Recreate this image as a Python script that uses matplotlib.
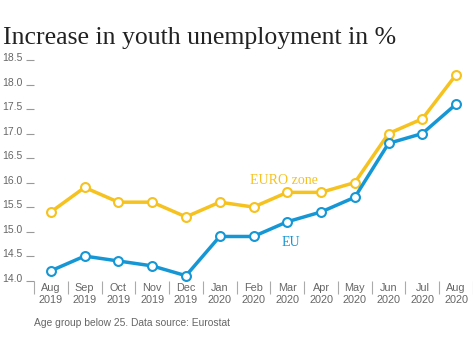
import numpy as np
import matplotlib
matplotlib.use("Agg")
import matplotlib.pyplot as plt
import matplotlib.transforms as mtransforms

# data
months = ["Aug\n2019", "Sep\n2019", "Oct\n2019", "Nov\n2019", "Dec\n2019",
          "Jan\n2020", "Feb\n2020", "Mar\n2020", "Apr\n2020", "May\n2020",
          "Jun\n2020", "Jul\n2020", "Aug\n2020"]
euro_zone = [15.4, 15.9, 15.6, 15.6, 15.3, 15.6, 15.5, 15.8, 15.8, 16.0, 17.0, 17.3, 18.2]
eu = [14.2, 14.5, 14.4, 14.3, 14.1, 14.9, 14.9, 15.2, 15.4, 15.7, 16.8, 17.0, 17.6]
yticks = [14.0, 14.5, 15.0, 15.5, 16.0, 16.5, 17.0, 17.5, 18.0, 18.5]

yellow = "#F6C21F"
blue = "#1697D5"
grey = "#666666"

fig = plt.figure(figsize=(4.73, 3.41), dpi=100)
ax = fig.add_axes([34/473, 1 - 280.6/341, 1 - 34/473, (280.6 - 60)/341])

x = np.arange(len(months))
for vals, col in [(euro_zone, yellow), (eu, blue)]:
    ax.plot(x, vals, color=col, lw=2.5, marker="o", ms=6.4,
            mfc="white", mec=col, mew=1.5, clip_on=False, zorder=3)

ax.text(6.9, 16.05, "EURO zone", color=yellow, fontsize=10,
        family="Liberation Serif", ha="center", va="center")
ax.text(7.1, 14.78, "EU", color=blue, fontsize=10,
        family="Liberation Serif", ha="center", va="center")

ax.set_xlim(-0.5, 12.5)
ax.set_ylim(14.0, 18.5)
for s in ax.spines.values():
    s.set_visible(False)

ax.set_yticks(yticks)
ax.set_yticklabels([f"{v:.1f}" for v in yticks])
ax.tick_params(axis="y", direction="out", length=6, width=0.8, color="#999999",
               labelsize=7.5, labelcolor=grey, pad=2)
shift = mtransforms.ScaledTranslation(0, 3/100, fig.dpi_scale_trans)
for lab in ax.get_yticklabels():
    lab.set_transform(lab.get_transform() + shift)
    lab.set_family("Liberation Sans")

ax.set_xticks(x)
ax.set_xticklabels(months, family="Liberation Sans")
ax.set_xticks(np.arange(-0.5, 13, 1), minor=True)
ax.tick_params(axis="x", which="major", length=0, labelsize=7.8,
               labelcolor=grey, pad=2)
ax.tick_params(axis="x", which="minor", direction="out", length=9,
               width=0.8, color="#aaaaaa")
for lab in ax.get_xticklabels():
    lab.set_linespacing(1.2)

fig.text(3/473, 1 - 38/341, "Increase in youth unemployment in %",
         family="Liberation Serif", fontsize=18.5, color="#222222",
         ha="left", va="center")
fig.text(34/473, 1 - 323/341, "Age group below 25. Data source: Eurostat",
         family="Liberation Sans", fontsize=7.4, color=grey,
         ha="left", va="center")

fig.savefig("out.png", dpi=100)
